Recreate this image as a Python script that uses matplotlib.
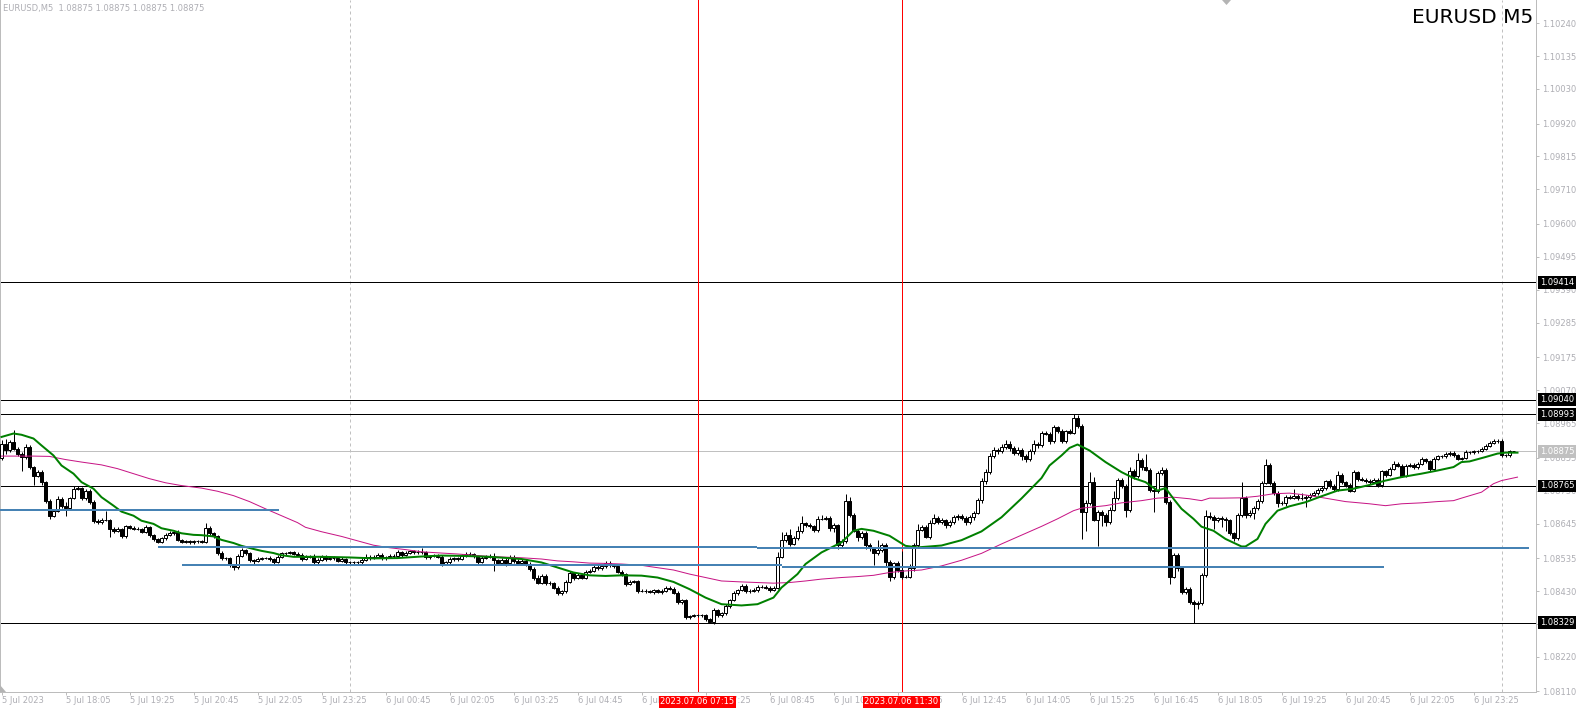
import matplotlib
matplotlib.use('Agg')
import matplotlib.pyplot as plt
import matplotlib.transforms as mtransforms
from matplotlib.patches import Polygon
import numpy as np

# EURUSD M5 candles, prices stored as points: price = 1.08 + pts / 100000
first_open = 855
close_pts = [
    900, 878, 905, 884, 868, 857, 889, 825, 798, 809,
    777, 718, 670, 686, 724, 702, 694, 726, 756, 758,
    726, 750, 715, 654, 649, 657, 657, 628, 622, 628,
    604, 636, 632, 628, 628, 619, 634, 608, 596, 587,
    598, 608, 615, 619, 593, 587, 589, 585, 588, 589,
    587, 630, 615, 606, 551, 534, 536, 512, 505, 542,
    561, 550, 528, 525, 532, 535, 536, 532, 523, 540,
    550, 551, 553, 549, 546, 532, 540, 542, 521, 529,
    540, 532, 536, 534, 527, 532, 521, 521, 521, 521,
    529, 539, 536, 540, 546, 534, 538, 541, 542, 553,
    546, 551, 557, 554, 555, 553, 538, 542, 543, 540,
    517, 521, 532, 535, 533, 542, 549, 547, 541, 524,
    536, 540, 543, 528, 519, 530, 518, 540, 526, 519,
    527, 516, 500, 473, 457, 478, 454, 455, 441, 423,
    429, 459, 487, 472, 480, 473, 492, 495, 508, 502,
    510, 519, 512, 510, 492, 484, 452, 460, 461, 430,
    430, 430, 427, 432, 427, 431, 441, 438, 425, 395,
    401, 347, 350, 353, 352, 353, 340, 331, 369, 352,
    359, 382, 401, 423, 433, 446, 429, 431, 433, 443,
    444, 440, 434, 440, 540, 593, 609, 581, 598, 620,
    647, 640, 636, 624, 659, 661, 664, 630, 640, 576,
    589, 716, 672, 622, 603, 615, 576, 566, 550, 561,
    577, 523, 475, 518, 497, 475, 476, 502, 576, 626,
    635, 603, 647, 663, 651, 655, 640, 650, 665, 670,
    662, 650, 665, 680, 720, 780, 810, 860, 880, 875,
    890, 900, 885, 870, 880, 860, 850, 875, 900, 894,
    935, 932, 907, 952, 939, 907, 939, 935, 980, 956,
    683, 711, 779, 657, 681, 672, 651, 689, 727, 785,
    764, 689, 812, 796, 849, 824, 817, 753, 748, 807,
    817, 715, 476, 544, 502, 427, 438, 395, 390, 392,
    481, 668, 665, 657, 662, 660, 655, 614, 598, 673,
    727, 672, 679, 694, 716, 775, 833, 774, 742, 710,
    710, 730, 728, 732, 726, 727, 730, 737, 743, 752,
    759, 780, 764, 756, 801, 777, 769, 750, 809, 788,
    785, 781, 777, 785, 768, 811, 800, 820, 836, 830,
    798, 830, 832, 825, 836, 850, 843, 820, 852, 860,
    859, 867, 871, 862, 852, 854, 873, 872, 875, 877,
    884, 892, 903, 907, 908, 862, 862, 875, 875,
]
hi_wick = [
    10, 16, 6, 37, 5, 5, 8, 5, 5, 6,
    8, 4, 4, 5, 8, 6, 11, 5, 8, 6,
    5, 5, 6, 5, 4, 5, 29, 4, 5, 5,
    4, 5, 4, 4, 5, 4, 6, 4, 5, 4,
    5, 6, 5, 4, 4, 4, 5, 4, 4, 4,
    4, 16, 6, 4, 4, 5, 4, 4, 4, 5,
    5, 4, 4, 4, 5, 5, 4, 5, 4, 5,
    4, 4, 5, 5, 4, 6, 5, 4, 5, 6,
    5, 4, 6, 5, 4, 5, 4, 5, 4, 4,
    5, 8, 5, 6, 5, 4, 5, 6, 5, 8,
    5, 6, 5, 4, 6, 11, 5, 4, 6, 5,
    6, 5, 6, 5, 4, 6, 5, 6, 5, 5,
    6, 5, 6, 8, 5, 6, 5, 6, 5, 5,
    6, 5, 5, 6, 8, 7, 5, 6, 5, 4,
    5, 6, 7, 5, 6, 5, 6, 5, 8, 5,
    6, 7, 6, 5, 5, 6, 5, 6, 5, 4,
    5, 5, 4, 5, 4, 5, 5, 6, 5, 4,
    5, 4, 5, 4, 5, 4, 5, 4, 8, 5,
    5, 6, 5, 6, 5, 6, 5, 5, 6, 5,
    5, 6, 5, 5, 13, 24, 8, 19, 6, 18,
    23, 4, 6, 4, 11, 11, 6, 5, 6, 5,
    6, 24, 15, 6, 5, 6, 5, 6, 5, 30,
    6, 6, 5, 6, 8, 60, 6, 14, 6, 18,
    6, 5, 8, 13, 6, 8, 6, 7, 8, 6,
    7, 6, 8, 6, 8, 10, 8, 10, 8, 6,
    8, 10, 7, 6, 8, 6, 7, 8, 10, 6,
    5, 6, 5, 6, 5, 6, 5, 6, 13, 10,
    6, 8, 30, 14, 6, 8, 6, 8, 23, 5,
    6, 8, 13, 6, 22, 6, 44, 6, 8, 6,
    8, 6, 6, 8, 6, 6, 5, 6, 5, 6,
    6, 21, 13, 6, 5, 6, 5, 6, 5, 6,
    50, 6, 8, 6, 8, 6, 19, 6, 8, 6,
    6, 5, 6, 24, 6, 15, 6, 5, 6, 5,
    6, 5, 6, 6, 11, 6, 5, 6, 6, 5,
    5, 4, 5, 6, 5, 6, 5, 6, 7, 5,
    5, 6, 5, 6, 5, 6, 5, 6, 6, 5,
    4, 5, 6, 5, 5, 4, 5, 4, 5, 4,
    5, 6, 5, 6, 5, 5, 4, 5, 0,
]
lo_wick = [
    9, 10, 6, 5, 8, 46, 5, 6, 30, 5,
    8, 6, 10, 5, 5, 6, 24, 4, 4, 5,
    6, 5, 8, 6, 6, 5, 5, 27, 6, 5,
    6, 5, 4, 4, 5, 5, 4, 5, 6, 5,
    4, 4, 4, 5, 5, 4, 4, 4, 4, 4,
    4, 4, 5, 6, 6, 5, 4, 6, 8, 5,
    4, 5, 5, 8, 4, 4, 4, 5, 6, 4,
    4, 4, 4, 4, 4, 5, 4, 5, 6, 5,
    4, 5, 4, 5, 6, 4, 5, 4, 5, 4,
    5, 4, 6, 5, 4, 6, 5, 4, 5, 5,
    6, 5, 4, 6, 5, 4, 6, 5, 4, 5,
    8, 5, 4, 5, 6, 5, 4, 5, 6, 8,
    5, 4, 5, 34, 6, 5, 8, 5, 6, 5,
    5, 6, 6, 8, 6, 5, 6, 5, 6, 5,
    6, 5, 5, 8, 5, 6, 5, 6, 5, 6,
    5, 6, 5, 6, 5, 6, 5, 4, 6, 5,
    4, 5, 4, 5, 4, 5, 4, 5, 4, 7,
    5, 7, 5, 4, 5, 4, 6, 4, 5, 6,
    5, 4, 5, 4, 5, 4, 6, 5, 4, 5,
    4, 5, 6, 5, 3, 5, 6, 7, 5, 6,
    5, 6, 5, 6, 5, 4, 6, 8, 13, 12,
    6, 5, 6, 5, 13, 6, 12, 8, 38, 6,
    6, 13, 13, 7, 6, 8, 5, 6, 8, 6,
    6, 5, 6, 5, 6, 8, 10, 7, 6, 8,
    7, 9, 6, 8, 6, 8, 10, 8, 7, 9,
    6, 8, 10, 7, 8, 12, 8, 6, 8, 7,
    6, 5, 7, 6, 5, 6, 5, 6, 5, 6,
    87, 61, 6, 3, 83, 34, 13, 6, 5, 6,
    6, 24, 6, 8, 6, 8, 6, 8, 67, 6,
    6, 8, 25, 6, 8, 6, 8, 6, 61, 18,
    8, 6, 6, 29, 6, 27, 33, 6, 8, 6,
    6, 8, 6, 19, 6, 6, 5, 6, 6, 13,
    6, 8, 6, 6, 5, 6, 30, 6, 5, 6,
    5, 6, 5, 6, 6, 5, 6, 5, 6, 6,
    5, 6, 5, 4, 6, 5, 6, 5, 5, 6,
    6, 5, 6, 5, 6, 5, 6, 6, 5, 6,
    5, 4, 6, 5, 6, 5, 4, 5, 4, 5,
    4, 5, 4, 5, 6, 6, 5, 4, 0,
]

# moving averages (bar index, points)
green_bar = [0, 3, 5, 8, 10, 13, 15, 18, 20, 23, 25, 28, 30, 33, 35, 38, 40, 43, 45, 48,
             50, 53, 55, 58, 60, 63, 65, 68, 70, 73, 80, 87, 93, 99, 105, 110, 115, 122, 130, 135,
             139, 143, 147, 151, 155, 160, 164, 168, 172, 176, 180, 185, 189, 193, 195, 199, 201, 205, 210, 213,
             215, 218, 222, 226, 229, 232, 235, 240, 245, 250, 255, 260, 262, 265, 267, 269, 272, 276, 280, 283,
             286, 289, 291, 293, 295, 298, 300, 303, 306, 310, 311, 314, 316, 319, 322, 326, 330, 334, 338, 342,
             346, 350, 355, 359, 363, 365, 367, 371, 374, 376, 379]
green_pts = [921, 932, 928, 916, 894, 862, 830, 804, 777, 756, 729, 702, 683, 670, 654, 644, 630, 622, 614, 609,
             608, 604, 593, 583, 574, 564, 558, 551, 544, 539, 539, 537, 534, 535, 540, 543, 542, 539, 532, 521,
             505, 489, 480, 478, 480, 479, 473, 459, 436, 409, 388, 384, 388, 409, 441, 484, 516, 553, 585, 622,
             628, 622, 606, 574, 569, 572, 575, 592, 620, 665, 725, 790, 830, 862, 886, 897, 878, 841, 809, 790,
             777, 750, 758, 724, 692, 660, 635, 622, 596, 572, 572, 596, 644, 686, 700, 713, 732, 750, 756, 768,
             782, 793, 804, 814, 825, 841, 843, 857, 868, 871, 871]
pink_bar = [0, 8, 12, 16, 20, 25, 29, 33, 37, 41, 45, 50, 54, 58, 62, 66, 70, 74, 76, 80,
            85, 89, 93, 97, 101, 105, 110, 114, 118, 122, 126, 130, 135, 139, 143, 147, 151, 155, 160, 162,
            168, 172, 176, 180, 185, 189, 193, 197, 201, 205, 210, 214, 218, 222, 226, 230, 235, 240, 245, 250,
            255, 260, 264, 268, 270, 276, 280, 285, 289, 293, 297, 300, 302, 305, 310, 314, 318, 322, 326, 330,
            336, 342, 346, 350, 355, 359, 363, 365, 370, 373, 375, 379]
pink_pts = [860, 860, 859, 849, 841, 832, 820, 804, 788, 775, 766, 758, 748, 734, 715, 692, 670, 648, 633, 619,
            604, 590, 576, 568, 562, 555, 551, 548, 544, 540, 538, 536, 532, 526, 523, 519, 518, 516, 512, 508,
            497, 484, 473, 462, 459, 457, 455, 457, 462, 468, 473, 476, 480, 489, 494, 497, 510, 528, 550, 580,
            608, 636, 660, 686, 694, 702, 711, 718, 726, 729, 724, 718, 726, 726, 727, 732, 740, 742, 736, 728,
            715, 708, 702, 708, 711, 715, 718, 726, 745, 772, 782, 793]

level_prices = [1.09414, 1.09040, 1.08993, 1.08765, 1.08329]
bid_price = 1.08875
# trend lines: start bar, end bar, price
blue_lines = [(-0.5, 69.4, 1.08688), (39.1, 188.8, 1.08569), (188.8, 381.8, 1.08566),
              (45.2, 195.0, 1.08513), (195.0, 345.6, 1.08508)]
red_bars = [174, 225]
red_labels = ['2023.07.06 07:15', '2023.07.06 11:30']
day_bars = [87, 375]

time_bars = [0, 16, 32, 48, 64, 80, 96, 112, 128, 144, 160, 176, 192, 208, 224, 240, 256, 272, 288, 304,
             320, 336, 352, 368]
time_labels = ['5 Jul 2023', '5 Jul 18:05', '5 Jul 19:25', '5 Jul 20:45', '5 Jul 22:05', '5 Jul 23:25',
               '6 Jul 00:45', '6 Jul 02:05', '6 Jul 03:25', '6 Jul 04:45', '6 Jul 06:05', '6 Jul 07:25',
               '6 Jul 08:45', '6 Jul 10:05', '6 Jul 11:25', '6 Jul 12:45', '6 Jul 14:05', '6 Jul 15:25',
               '6 Jul 16:45', '6 Jul 18:05', '6 Jul 19:25', '6 Jul 20:45', '6 Jul 22:05', '6 Jul 23:25']
price_ticks = [1.10240, 1.10135, 1.10030, 1.09920, 1.09815, 1.09710, 1.09600, 1.09495, 1.09390, 1.09285,
               1.09175, 1.09070, 1.08965, 1.08855, 1.08750, 1.08645, 1.08535, 1.08430, 1.08325, 1.08220,
               1.08110]

W, H = 1579, 714
fig = plt.figure(figsize=(W / 100, H / 100), dpi=100)
fig.patch.set_facecolor('white')
ax = fig.add_axes([0, 22 / H, 1536 / W, 692 / H])

px = 0.72  # one pixel in points
axis_grey = '#bcbcbc'
text_grey = '#aeaeb4'

c = 1.08 + np.array(close_pts) / 1e5
o = np.concatenate([[1.08 + first_open / 1e5], c[:-1]])
h = np.maximum(o, c) + np.array(hi_wick) / 1e5
l = np.minimum(o, c) - np.array(lo_wick) / 1e5
idx = np.arange(len(c))
up = c >= o
bot = np.minimum(o, c)
hgt = np.abs(c - o)

ax.vlines(idx, l, h, color='black', lw=px, zorder=3)
ax.bar(idx[up], hgt[up], bottom=bot[up], width=0.55, color='white', edgecolor='black', lw=px, zorder=4)
ax.bar(idx[~up], hgt[~up], bottom=bot[~up], width=0.55, color='black', edgecolor='black', lw=px, zorder=4)

# levels
for p in level_prices:
    ax.axhline(p, color='black', lw=px, zorder=2)
ax.axhline(bid_price, color='#c0c0c0', lw=px, zorder=2)

for b in day_bars:
    ax.axvline(b, color='#c0c0c0', lw=px, ls=(0, (3, 3)), zorder=1)
for b in red_bars:
    ax.axvline(b, color='#ff0000', lw=px, zorder=2, snap=True)

ax.plot(pink_bar, 1.08 + np.array(pink_pts) / 1e5, color='#c71585', lw=px, zorder=5)
ax.plot(green_bar, 1.08 + np.array(green_pts) / 1e5, color='#008000', lw=2 * px, zorder=6)

for x0, x1, p in blue_lines:
    ax.plot([x0, x1], [p, p], color='#4682b4', lw=2 * px, zorder=7, solid_capstyle='butt')

# bar i sits on a pixel centre: x = 1.5 + 4 * i
ax.set_xlim(-0.375, 383.625)
ax.set_ylim(1.0810815, 1.1031362)

ax.spines['top'].set_visible(False)
for s in ['left', 'right', 'bottom']:
    ax.spines[s].set_color(axis_grey)
    ax.spines[s].set_linewidth(px)

ax.yaxis.tick_right()
ax.set_yticks(price_ticks)
ax.set_yticklabels([f'{p:.5f}' for p in price_ticks])
ax.set_xticks(time_bars)
ax.set_xticklabels(time_labels, ha='left')
ax.tick_params(axis='both', colors=axis_grey, labelcolor=text_grey, labelsize=6,
               length=3 * px, width=px, direction='out')
ax.tick_params(axis='y', pad=2)
ax.tick_params(axis='x', pad=1)

ytrans = mtransforms.blended_transform_factory(ax.transAxes, ax.transData)
for p in level_prices:
    ax.text(1.0025, p, f'{p:.5f}', transform=ytrans, ha='left', va='center', fontsize=6, color='white',
            bbox=dict(boxstyle='square,pad=0.22', fc='black', ec='none'), zorder=20, clip_on=False)
ax.text(1.0025, bid_price, f'{bid_price:.5f}', transform=ytrans, ha='left', va='center', fontsize=6,
        color='white', bbox=dict(boxstyle='square,pad=0.22', fc='#c0c0c0', ec='none'), zorder=20, clip_on=False)

xtrans = mtransforms.blended_transform_factory(ax.transData, ax.transAxes)
for b, t in zip(red_bars, red_labels):
    ax.text(b, -10 / 692, t, transform=xtrans, ha='center', va='center', fontsize=6, color='white',
            bbox=dict(boxstyle='square,pad=0.22', fc='red', ec='none'), zorder=20, clip_on=False)

ax.text(3 / 1536, 1 - 9 / 692, 'EURUSD,M5  1.08875 1.08875 1.08875 1.08875', transform=ax.transAxes,
        fontsize=6, color=text_grey, ha='left', va='center')
ax.text(1533 / 1536, 1 - 23 / 692, 'EURUSD M5', transform=ax.transAxes, fontsize=14.5, color='black',
        ha='right', va='baseline', zorder=20)

# chart shift marker and corner marker
fig.add_artist(Polygon([(1222 / W, 1), (1231 / W, 1), (1226.5 / W, 1 - 5 / H)], closed=True,
                       transform=fig.transFigure, fc='#b4b4b4', ec='none'))
fig.add_artist(Polygon([(0, 22 / H), (0, 29 / H), (6 / W, 22 / H)], closed=True,
                       transform=fig.transFigure, fc='#b4b4b4', ec='none'))

fig.savefig('out.png', dpi=100)
